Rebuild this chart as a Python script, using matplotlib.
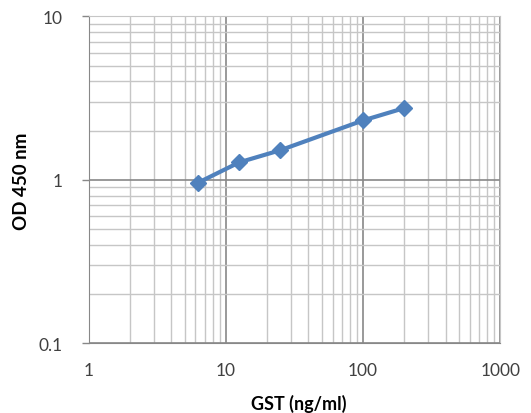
import matplotlib
matplotlib.use("Agg")
import matplotlib.pyplot as plt
from matplotlib.ticker import LogLocator, FixedLocator, NullFormatter, FixedFormatter

gst_ng_ml = [6.25, 12.5, 25, 100, 200]
od_450 = [0.96, 1.28, 1.52, 2.31, 2.75]
x_tick_labels = ["1", "10", "100", "1000"]
y_tick_labels = ["0.1", "1", "10"]

plt.rcParams['font.family'] = ['Lato', 'DejaVu Sans']

fig = plt.figure(figsize=(5.31, 4.14), dpi=100)
ax = fig.add_axes([0.167, 0.168, 0.775, 0.790])
ax.set_xscale('log')
ax.set_yscale('log')
ax.set_xlim(1, 1000)
ax.set_ylim(0.1, 10)

ax.xaxis.set_major_locator(FixedLocator([1, 10, 100, 1000]))
ax.xaxis.set_major_formatter(FixedFormatter(x_tick_labels))
ax.yaxis.set_major_locator(FixedLocator([0.1, 1, 10]))
ax.yaxis.set_major_formatter(FixedFormatter(y_tick_labels))
ax.xaxis.set_minor_locator(LogLocator(base=10, subs=range(2, 10)))
ax.yaxis.set_minor_locator(LogLocator(base=10, subs=range(2, 10)))
ax.xaxis.set_minor_formatter(NullFormatter())
ax.yaxis.set_minor_formatter(NullFormatter())

ax.grid(True, which='major', color='#888888', linewidth=1.2)
ax.grid(True, which='minor', color='#c6c6c6', linewidth=1.0)
ax.set_axisbelow(True)

ax.tick_params(axis='x', which='both', length=0, pad=13, labelsize=12.5, labelcolor='#404040')
ax.tick_params(axis='y', which='major', length=5, width=1, color='#888888', pad=14, labelsize=12.5, labelcolor='#404040')
ax.tick_params(axis='y', which='minor', length=0)

for side in ['top', 'right']:
    ax.spines[side].set_color('#c6c6c6')
ax.spines['left'].set_color('#888888')
ax.spines['bottom'].set_color('#888888')

ax.plot(gst_ng_ml, od_450, color='#4f81bd', linewidth=3, marker='D', markersize=8.5, zorder=3)

ax.set_xlabel('GST (ng/ml)', fontsize=13, fontweight='bold')
ax.set_ylabel('OD 450 nm', fontsize=13.5, fontweight='bold')
ax.xaxis.set_label_coords(0.51, -0.155)
ax.yaxis.set_label_coords(-0.142, 0.5)

fig.savefig('out.png', dpi=100)
